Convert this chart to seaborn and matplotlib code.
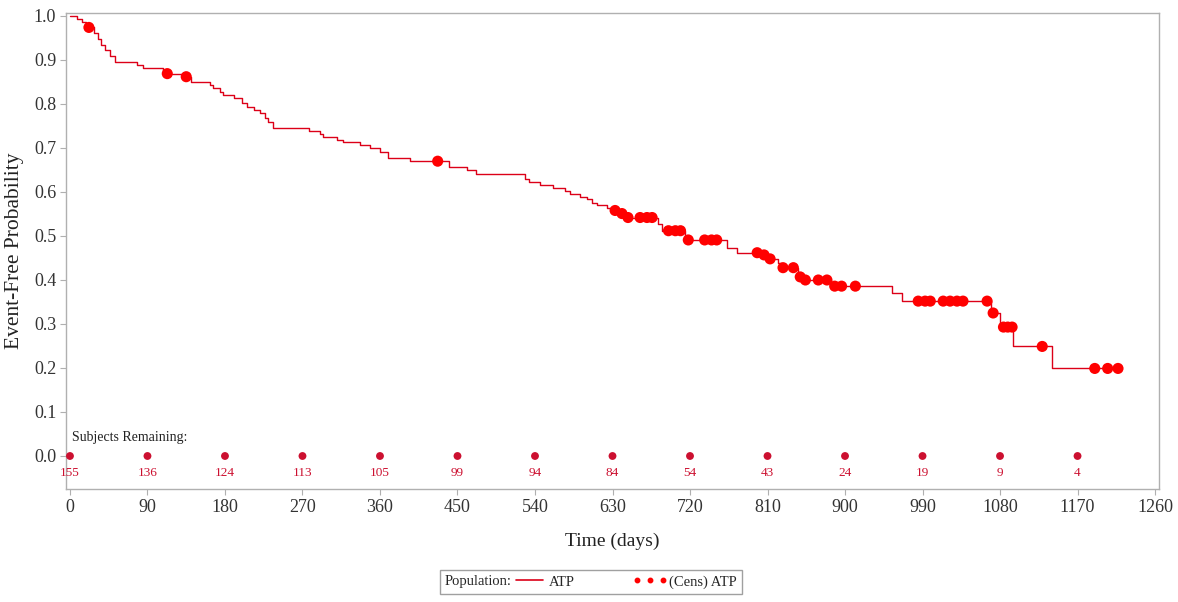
import numpy as np
import pandas as pd
import matplotlib
matplotlib.use("Agg")
import matplotlib.pyplot as plt
import seaborn as sns
from matplotlib.lines import Line2D
from matplotlib.offsetbox import HPacker

# Kaplan-Meier estimate: event days and the survival value after each step
step_days = np.array([
    0, 8, 14, 19, 21, 28, 32, 36, 41, 46, 52, 78, 85, 108, 130, 140,
    163, 166, 174, 178, 190, 200, 205, 214, 221, 226, 230, 236,
    278, 290, 294, 310, 317, 337, 348, 360, 369, 395, 440, 461, 472,
    528, 533, 546, 561, 575, 581, 592, 600, 606, 612, 624, 630, 638, 644,
    683, 687, 714, 763, 775, 802, 810, 822, 826, 845, 851, 884,
    955, 966, 1069, 1080, 1095, 1140,
])
step_surv = np.array([
    1.000, 0.994, 0.987, 0.980, 0.974, 0.961, 0.948, 0.935, 0.922, 0.909,
    0.896, 0.889, 0.882, 0.869, 0.862, 0.851,
    0.844, 0.836, 0.828, 0.820, 0.813, 0.803, 0.793, 0.786, 0.779, 0.769,
    0.759, 0.745,
    0.738, 0.731, 0.725, 0.719, 0.714, 0.707, 0.701, 0.690, 0.677, 0.670,
    0.657, 0.651, 0.641,
    0.629, 0.623, 0.616, 0.609, 0.602, 0.596, 0.589, 0.583, 0.576, 0.570,
    0.564, 0.558, 0.551, 0.542,
    0.527, 0.512, 0.491, 0.472, 0.462, 0.457, 0.448, 0.438, 0.428, 0.407,
    0.400, 0.386,
    0.370, 0.352, 0.325, 0.293, 0.249, 0.199,
])

# Censored observations (days)
censor_days = np.array([
    22, 113, 135, 427, 633, 641, 648, 662, 670, 676,
    695, 703, 709, 718, 737, 745, 751, 798, 806, 813, 828, 840,
    848, 854, 869, 879, 888, 896, 912,
    985, 993, 999, 1014, 1022, 1030, 1037, 1065, 1072, 1084, 1089, 1094,
    1129, 1190, 1205, 1217,
])

# Number at risk
risk_days = np.arange(0, 1171, 90)
risk_counts = [155, 136, 124, 113, 105, 99, 94, 84, 54, 43, 24, 19, 9, 4]

x_ticks = np.arange(0, 1261, 90)
y_ticks = np.round(np.arange(0, 1.01, 0.1), 1)

curve_color = "#dc0018"
cens_color = "#ff0000"
risk_color = "#cc1030"

sns.set_style("white")
plt.rcParams["font.family"] = ["Liberation Serif", "DejaVu Serif"]

fig = plt.figure(figsize=(11.78, 6.02), dpi=100)
ax = fig.add_axes([66 / 1178, 1 - 489 / 602, (1159 - 66) / 1178, (489 - 13) / 602])

# survival curve extended to the last follow-up time
line_x = np.append(step_days, censor_days.max())
line_y = np.append(step_surv, step_surv[-1])
curve = pd.DataFrame({"day": line_x, "surv": line_y})
sns.lineplot(data=curve, x="day", y="surv", ax=ax, drawstyle="steps-post",
             color=curve_color, lw=1.0, estimator=None, sort=False)

# censor marks sit on the curve
idx = np.searchsorted(step_days, censor_days, side="right") - 1
cens = pd.DataFrame({"day": censor_days, "surv": step_surv[idx]})
sns.scatterplot(data=cens, x="day", y="surv", ax=ax, color=cens_color,
                s=64, edgecolor="none", zorder=3)

# subjects remaining row
risk = pd.DataFrame({"day": risk_days, "y": np.zeros(len(risk_days))})
sns.scatterplot(data=risk, x="day", y="y", ax=ax, color=risk_color,
                s=32, edgecolor="none", zorder=3)
for d, n in zip(risk_days, risk_counts):
    ax.text(d, -0.038, str(n), ha="center", va="center", fontsize=9.5,
            color=risk_color)
ax.text(2, 0.043, "Subjects Remaining:", ha="left", va="center",
        fontsize=10, color="#222222")

ax.set_xlim(-4.6, 1264.6)
ax.set_ylim(-0.075, 1.0068)
ax.set_xticks(x_ticks)
ax.set_xticklabels([str(t) for t in x_ticks])
ax.set_yticks(y_ticks)
ax.set_yticklabels([f"{t:.1f}" for t in y_ticks])
ax.tick_params(axis="both", which="major", labelsize=13, colors="#333333",
               length=4, width=0.8, direction="out", bottom=True, left=True,
               pad=3)
ax.tick_params(axis="both", color="#b0b0b0")
ax.set_xlabel("Time (days)", fontsize=14, color="#222222", labelpad=12)
ax.set_ylabel("Event-Free Probability", fontsize=15.5, color="#222222",
              labelpad=7)
for sp in ax.spines.values():
    sp.set_color("#b0b0b0")
    sp.set_linewidth(1.0)

# legend laid out in one row: "Population:" then the entries
line_h = Line2D([], [], color=curve_color, lw=1.2)
cens_h = Line2D([], [], color=cens_color, ls="none", marker="o", markersize=3.2)
leg = fig.legend([line_h, cens_h], ["ATP", "(Cens) ATP"], loc="center",
                 bbox_to_anchor=(591 / 1178, 1 - 582 / 602), ncol=2,
                 numpoints=3, title="Population:", fontsize=10.5,
                 title_fontsize=10.5, handlelength=2.4, handletextpad=0.1,
                 columnspacing=4.0, borderpad=0.35, fancybox=False,
                 frameon=True, edgecolor="#a0a0a0", framealpha=1)
old_box = leg._legend_box
row_box = HPacker(pad=old_box.pad, sep=0, align="center",
                  children=old_box.get_children())
row_box.set_figure(fig)
row_box.axes = old_box.axes
leg._legend_box = row_box
row_box.set_offset(leg._findoffset)
leg.get_frame().set_linewidth(1.0)

fig.savefig("out.png", dpi=100)
